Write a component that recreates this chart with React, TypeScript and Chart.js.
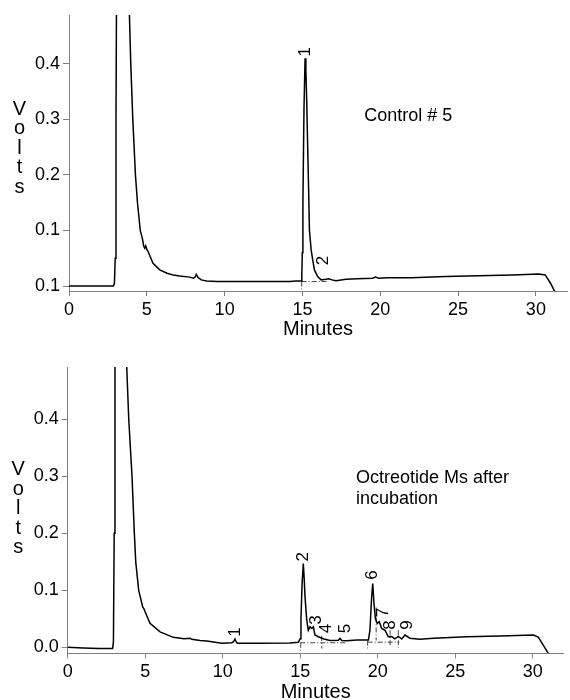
import React, { useEffect, useRef } from 'react';
import { Chart, registerables } from 'chart.js';

Chart.register(...registerables);

const FONT = '"Liberation Sans", Arial, Helvetica, sans-serif';

// ---------- axis ticks ----------
const xTickValues = [0, 5, 10, 15, 20, 25, 30];
const yTickValues = [0, 0.1, 0.2, 0.3, 0.4];
const topYLabels = ['0.1', '0.1', '0.2', '0.3', '0.4'];
const bottomYLabels = ['0.0', '0.1', '0.2', '0.3', '0.4'];

// ---------- top trace (Control # 5) ----------
const topTime = [
  0, 1, 2, 2.85, 2.92, 2.97, 3.02, 3.08, 3.3, 3.6, 3.8, 3.88, 3.97, 4.1, 4.27, 4.4, 4.58,
  4.72, 4.8, 4.87, 4.93, 5.0, 5.08, 5.4, 5.83, 6.3, 6.69, 7.1, 7.76, 8.0, 8.1, 8.18, 8.3,
  8.5, 8.83, 9.5, 10.5, 11.5, 12.5, 13.5, 14.2, 14.6, 14.92,
  14.96, 14.99, 15.03, 15.1, 15.17, 15.22, 15.27, 15.33, 15.4, 15.45, 15.56, 15.66, 15.77,
  15.98, 16.2, 16.5, 16.7, 16.9, 17.16, 17.8, 18.5, 19.5, 19.7, 19.9, 20.5, 22.0, 24.2,
  26.3, 28.5, 30.2, 30.6, 30.94, 31.3,
];
const topVolts = [
  0, 0, 0, 0, 0.005, 0.05, 0.3, 0.7, 1.3, 1.3, 0.62, 0.49, 0.4, 0.3, 0.2, 0.15, 0.1,
  0.085, 0.072, 0.068, 0.072, 0.066, 0.062, 0.041, 0.029, 0.023, 0.02, 0.018, 0.016, 0.014, 0.016, 0.021, 0.015,
  0.011, 0.009, 0.008, 0.008, 0.008, 0.008, 0.008, 0.008, 0.009, 0.009,
  0.02, 0.06, 0.15, 0.32, 0.41, 0.39, 0.34, 0.26, 0.17, 0.1, 0.065, 0.047, 0.029,
  0.017, 0.011, 0.012, 0.013, 0.011, 0.0095, 0.012, 0.013, 0.014, 0.016, 0.014, 0.015, 0.015, 0.017,
  0.0186, 0.02, 0.0216, 0.02, 0.005, -0.015,
];
// dash-dot integration marks (null breaks a segment)
const topMarkTime = [14.95, 16.55, null, 14.95, 14.95];
const topMarkVolts = [0.008, 0.008, null, 0.008, -0.006];

// ---------- bottom trace (Octreotide Ms after incubation) ----------
const bottomTime = [
  0, 1, 2, 2.9, 2.95, 3.0, 3.05, 3.3, 3.6, 3.81, 3.94, 4.15, 4.3, 4.39, 4.58, 4.84, 4.93,
  5.0, 5.31, 5.96, 6.81, 7.5, 7.9, 8.0, 8.54, 8.97, 9.94, 10.58, 10.7, 10.79, 10.88, 10.94,
  12.19, 14.34, 14.88, 15.0, 15.05, 15.12, 15.2, 15.26, 15.31, 15.42, 15.52, 15.63, 15.75,
  15.85, 15.95, 16.17, 16.4, 16.6, 16.92, 17.46, 17.57, 17.68, 18.0, 18.65, 19.4, 19.5,
  19.61, 19.68, 19.76, 19.85, 19.97, 20.1, 20.26, 20.47, 20.68, 20.9, 21.1, 21.33, 21.55,
  21.76, 22.08, 22.73, 23.6, 25.74, 27.9, 30.04, 30.36, 30.68, 31.1,
];
const bottomVolts = [
  0, -0.001, -0.002, -0.002, 0.01, 0.2, 0.55, 1.4, 1.2, 0.49, 0.4, 0.3, 0.2, 0.15, 0.1, 0.071, 0.067,
  0.062, 0.042, 0.027, 0.0175, 0.015, 0.016, 0.014, 0.012, 0.011, 0.007, 0.008, 0.01, 0.0145, 0.009, 0.007,
  0.007, 0.0075, 0.009, 0.015, 0.05, 0.11, 0.147, 0.12, 0.089, 0.048, 0.03, 0.036, 0.033,
  0.036, 0.0216, 0.0186, 0.016, 0.014, 0.012, 0.0125, 0.0157, 0.012, 0.0117, 0.0128, 0.0128, 0.03,
  0.089, 0.112, 0.077, 0.051, 0.042, 0.045, 0.033, 0.03, 0.0186, 0.019, 0.0147, 0.019, 0.0147,
  0.0216, 0.016, 0.014, 0.016, 0.0186, 0.02, 0.0216, 0.018, 0.004, -0.015,
];
const bottomMarkTime = [
  15.0, 18.0, null, 19.35, 21.4, null, 15.03, 15.03, null, 16.39, 16.39, null,
  19.35, 19.35, null, 19.9, 19.9, null, 20.8, 20.8, null, 21.33, 21.33,
];
const bottomMarkVolts = [
  0.008, 0.008, null, 0.009, 0.009, null, 0.008, -0.006, null, 0.02, -0.002, null,
  0.012, -0.004, null, 0.07, 0.012, null, 0.03, 0.003, null, 0.03, -0.001,
];

// ---------- annotations ----------
const topTitleLines = ['Control # 5'];
const bottomTitleLines = ['Octreotide Ms after', 'incubation'];
const topPeakNames = ['1', '2'];
const topPeakTime = [15.16, 16.31];
const topPeakVolts = [0.422, 0.046];
const bottomPeakNames = ['1', '2', '3', '4', '5', '6', '7', '8', '9'];
const bottomPeakTime = [10.79, 15.2, 16.06, 16.66, 17.89, 19.63, 20.36, 20.79, 21.92];
const bottomPeakVolts = [0.027, 0.159, 0.048, 0.033, 0.033, 0.127, 0.061, 0.039, 0.039];

type PanelCfg = {
  time: number[];
  volts: number[];
  markTime: (number | null)[];
  markVolts: (number | null)[];
  yLabels: string[];
  yMin: number;
  yMax: number;
  titleLines: string[];
  titleT: number;
  titleV: number;
  peakNames: string[];
  peakT: number[];
  peakV: number[];
  voltsV: number;
  axisWidth: number;
  axisHeight: number;
  pad: { left: number; right: number; top: number; bottom: number };
  minutesPad: number;
};

function makeAnnot(cfg: PanelCfg) {
  return {
    id: 'annot',
    afterDatasetsDraw(chart: any) {
      const { ctx, chartArea } = chart;
      const x = chart.scales.x;
      const y = chart.scales.y;
      ctx.save();
      ctx.fillStyle = '#000';
      ctx.font = `18px ${FONT}`;
      ctx.textAlign = 'left';
      ctx.textBaseline = 'alphabetic';
      cfg.titleLines.forEach((s, i) => {
        ctx.fillText(s, x.getPixelForValue(cfg.titleT), y.getPixelForValue(cfg.titleV) + i * 21);
      });
      ctx.font = `17px ${FONT}`;
      cfg.peakNames.forEach((name, i) => {
        const px = x.getPixelForValue(cfg.peakT[i]);
        const py = y.getPixelForValue(cfg.peakV[i]);
        ctx.save();
        ctx.translate(px, py);
        ctx.rotate(-Math.PI / 2);
        ctx.textAlign = 'center';
        ctx.textBaseline = 'middle';
        ctx.fillText(name, 0, 0);
        ctx.restore();
      });
      ctx.font = `20px ${FONT}`;
      ctx.textAlign = 'center';
      ctx.textBaseline = 'alphabetic';
      'Volts'.split('').forEach((ch, i) => {
        ctx.fillText(ch, chartArea.left - 49.5, y.getPixelForValue(cfg.voltsV) + i * 19.5);
      });
      ctx.restore();
    },
  };
}

function Panel({ cfg }: { cfg: PanelCfg }) {
  const ref = useRef<HTMLCanvasElement | null>(null);
  useEffect(() => {
    if (!ref.current) return;
    const trace = cfg.time.map((t, i) => ({ x: t, y: cfg.volts[i] }));
    const marks = cfg.markTime.map((t, i) => ({ x: t, y: cfg.markVolts[i] }));
    const chart = new Chart(ref.current, {
      type: 'line',
      data: {
        datasets: [
          {
            data: trace as any,
            borderColor: '#000',
            borderWidth: 1.5,
            pointRadius: 0,
            tension: 0,
            fill: false,
          },
          {
            data: marks as any,
            borderColor: '#444',
            borderWidth: 1,
            borderDash: [5, 2, 1, 2],
            pointRadius: 0,
            tension: 0,
            spanGaps: false,
            fill: false,
          },
        ],
      },
      options: {
        responsive: false,
        animation: false,
        events: [],
        layout: { padding: cfg.pad },
        plugins: { legend: { display: false }, tooltip: { enabled: false }, title: { display: false } },
        scales: {
          x: {
            type: 'linear',
            position: 'bottom',
            min: 0,
            max: 32,
            afterBuildTicks: (scale: any) => {
              scale.ticks = xTickValues.map((v) => ({ value: v }));
            },
            afterFit: (scale: any) => {
              scale.height = cfg.axisHeight;
            },
            grid: { display: true, drawOnChartArea: false, drawTicks: true, tickLength: 5, color: '#808080' },
            border: { display: true, color: '#808080', width: 1 },
            ticks: {
              color: '#000',
              font: { family: FONT, size: 18 },
              padding: 3,
              maxRotation: 0,
              autoSkip: false,
              callback: (v: any) => String(v),
            },
            title: {
              display: true,
              text: 'Minutes',
              color: '#000',
              font: { family: FONT, size: 20, lineHeight: 0.8 },
              padding: { top: 0, bottom: cfg.minutesPad },
            },
          },
          y: {
            type: 'linear',
            min: cfg.yMin,
            max: cfg.yMax,
            afterBuildTicks: (scale: any) => {
              scale.ticks = yTickValues.map((v) => ({ value: v }));
            },
            afterFit: (scale: any) => {
              scale.width = cfg.axisWidth;
            },
            grid: { display: true, drawOnChartArea: false, drawTicks: true, tickLength: 6, color: '#808080' },
            border: { display: true, color: '#808080', width: 1 },
            ticks: {
              color: '#000',
              font: { family: FONT, size: 18 },
              padding: 3,
              autoSkip: false,
              callback: (_v: any, i: number) => cfg.yLabels[i],
            },
          },
        },
      },
      plugins: [makeAnnot(cfg)],
    });
    return () => chart.destroy();
  }, [cfg]);
  return <canvas ref={ref} width={570} height={350} style={{ display: 'block' }} />;
}

const topCfg: PanelCfg = {
  time: topTime,
  volts: topVolts,
  markTime: topMarkTime,
  markVolts: topMarkVolts,
  yLabels: topYLabels,
  yMin: -0.009,
  yMax: 0.488,
  titleLines: topTitleLines,
  titleT: 18.97,
  titleV: 0.298,
  peakNames: topPeakNames,
  peakT: topPeakTime,
  peakV: topPeakVolts,
  voltsV: 0.308,
  axisWidth: 69,
  axisHeight: 59,
  pad: { left: 0, right: 3, top: 15, bottom: 0 },
  minutesPad: 13,
};

const bottomCfg: PanelCfg = {
  time: bottomTime,
  volts: bottomVolts,
  markTime: bottomMarkTime,
  markVolts: bottomMarkVolts,
  yLabels: bottomYLabels,
  yMin: -0.0105,
  yMax: 0.492,
  titleLines: bottomTitleLines,
  titleT: 18.6,
  titleV: 0.288,
  peakNames: bottomPeakNames,
  peakT: bottomPeakTime,
  peakV: bottomPeakVolts,
  voltsV: 0.302,
  axisWidth: 67.7,
  axisHeight: 46.7,
  pad: { left: 0, right: 6.3, top: 17, bottom: 0 },
  minutesPad: 0,
};

export default function App() {
  return (
    <div style={{ position: 'absolute', left: 0, top: 0, width: 570, height: 700, background: '#fff' }}>
      <Panel cfg={topCfg} />
      <Panel cfg={bottomCfg} />
    </div>
  );
}
